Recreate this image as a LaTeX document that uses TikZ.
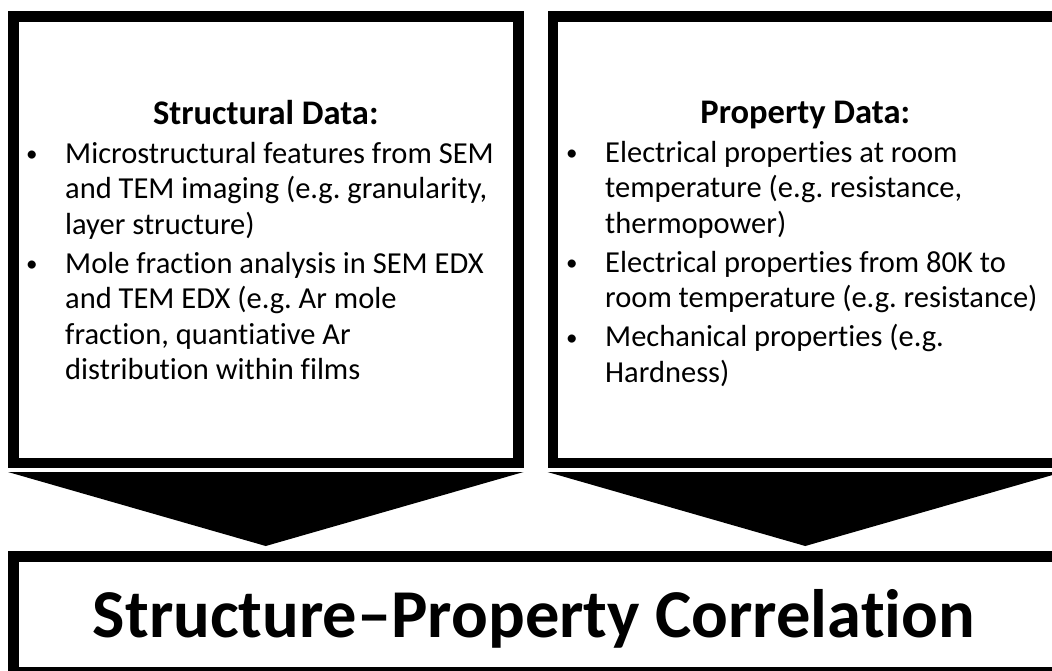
\documentclass[tikz,border=0pt]{standalone}
\usepackage{fontspec}
\setmainfont{Carlito}[Ligatures=NoCommon]
\frenchspacing
\newcommand{\bul}{\makebox[39pt][l]{\raisebox{1.5pt}{\fontsize{23}{23}\selectfont •}}}
\newcommand{\ind}{\hspace*{39pt}}
\newcommand{\linesbox}[1]{\begin{minipage}[t]{520pt}\raggedright\frenchspacing #1\end{minipage}}
\begin{document}
\begin{tikzpicture}[x=1pt,y=-1pt,
  box/.style={draw=black, line width=10.5pt, inner sep=0pt},
  arrowtri/.style={fill=black},
  body/.style={font=\fontsize{30.5}{35.5}\selectfont, inner sep=0pt, anchor=base west},
  head/.style={font=\bfseries\fontsize{34.5}{40}\selectfont, inner sep=0pt, anchor=base},
  title/.style={font=\bfseries\fontsize{68.5}{80}\selectfont, inner sep=0pt, anchor=base}]
\useasboundingbox (0,0) rectangle (1052,670);
\clip (0,0) rectangle (1052,670);
\node[box, minimum width=505pt, minimum height=446.5pt] (sbox) at (265.75,239.5) {};
\node[box, minimum width=505pt, minimum height=446.5pt] (pbox) at (805.25,239.5) {};
\node[box, minimum width=1044.5pt, minimum height=115.5pt] (cbox) at (535.5,614) {};
\fill[arrowtri] ([yshift=-4pt]sbox.south west) -- ([yshift=-4pt]sbox.south east) -- ([yshift=-78pt]sbox.south) -- cycle;
\fill[arrowtri] ([yshift=-4pt]pbox.south west) -- ([yshift=-4pt]pbox.south east) -- ([yshift=-78pt]pbox.south) -- cycle;
\node[head] (shead) at (265.75,124) {Structural Data:};
\node[body] (slist) at (26,163) {\linesbox{\bul Microstructural features from SEM\\
\ind and TEM imaging (e.g. granularity,\\
\ind layer structure)\\[3.5pt]
\bul Mole fraction analysis in SEM EDX\\
\ind and TEM EDX (e.g. Ar mole\\
\ind fraction, quantiative Ar\\
\ind distribution within films}};
\node[head] (phead) at (805.25,123) {Property Data:};
\node[body] (plist) at (566,162) {\linesbox{\bul Electrical properties at room\\
\ind temperature (e.g. resistance,\\
\ind thermopower)\\[3.5pt]
\bul Electrical properties from 80K to\\
\ind room temperature (e.g. resistance)\\[3.5pt]
\bul Mechanical properties (e.g.\\
\ind Hardness)}};
\node[title] (corr) at (534,637) {Structure–Property Correlation};
\end{tikzpicture}
\end{document}
